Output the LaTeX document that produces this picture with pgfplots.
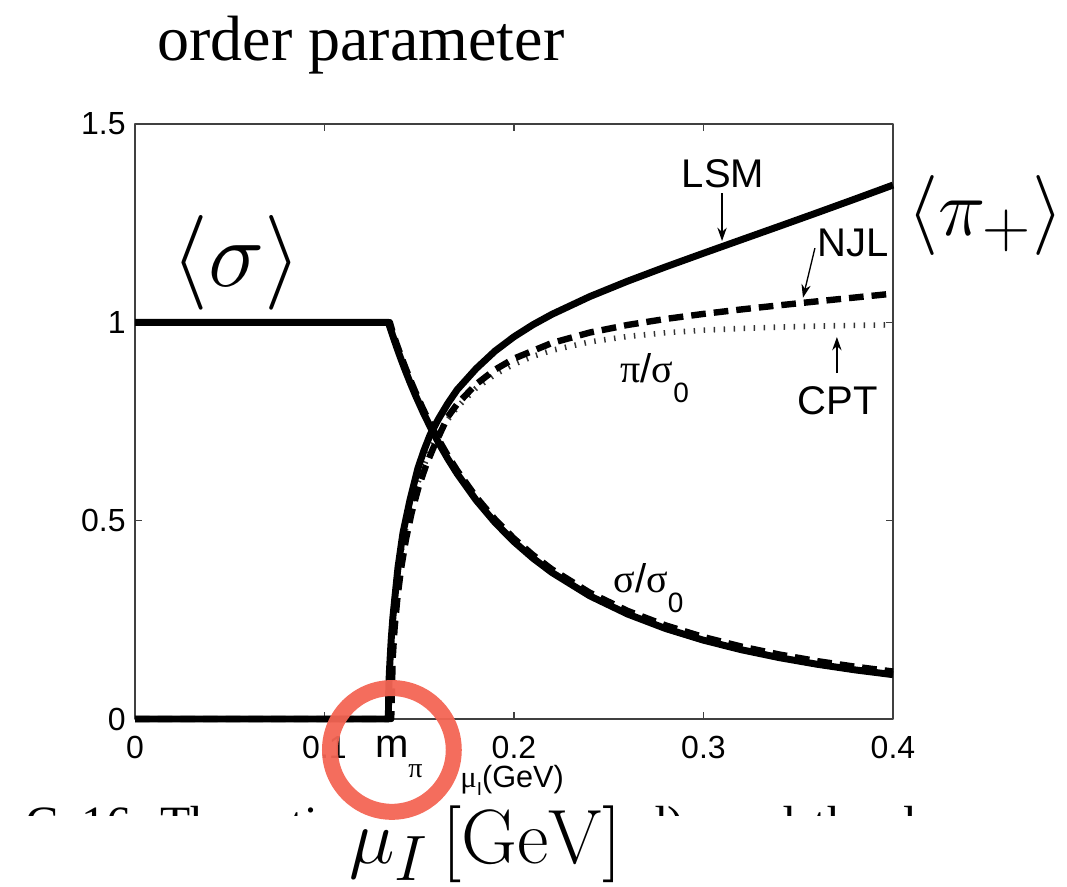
\documentclass[border=0pt]{standalone}
\usepackage{graphicx}
\usepackage{pgfplots}
\pgfplotsset{compat=1.18}
\usepackage[no-math]{fontspec}
\setmainfont{Liberation Sans}
\newfontfamily\serifx{Liberation Serif}
\usetikzlibrary{arrows.meta}
\definecolor{ringred}{RGB}{243,101,84}

\begin{document}
\begin{tikzpicture}
\path[use as bounding box] (-50.61pt,-62.61pt) rectangle (349.39pt,269.54pt);
\begin{axis}[
  at={(0pt,0pt)}, anchor=south west,
  scale only axis, width=284.16pt, height=223.06pt,
  xmin=0, xmax=0.4, ymin=0, ymax=1.5,
  xtick={0,0.1,0.2,0.3,0.4}, xticklabels={0,0.1,0.2,0.3,0.4},
  ytick={0,0.5,1,1.5}, yticklabels={0,0.5,1,1.5},
  /pgf/number format/assume math mode=true,
  tick align=inside, major tick length=2.6pt,
  axis line style={line width=0.5pt, black!75},
  tick style={line width=0.5pt, black!75},
  ticklabel style={font=\fontsize{12}{14}\selectfont},
  xticklabel style={yshift=-3pt},
  clip=false,
  line join=round,
]
% CPT (dotted)
\addplot[black!80, line width=2.1pt, dash pattern=on 0.55pt off 3.2pt] coordinates {
(0.1337,0) (0.1345,0.1534) (0.1355,0.2281) (0.137,0.3048) (0.139,0.3795) (0.1415,0.4504) (0.1445,0.5168) (0.148,0.5779) (0.152,0.6335) (0.156,0.6786) (0.16,0.7158) (0.165,0.7542) (0.17,0.7857) (0.18,0.834) (0.19,0.8688) (0.2,0.8946) (0.21,0.9142) (0.22,0.9293) (0.24,0.9506) (0.26,0.9644) (0.28,0.9737) (0.3,0.9801) (0.32,0.9846) (0.34,0.988) (0.36,0.9904) (0.38,0.9923) (0.4,0.9937)};
% LSM sigma (solid)
\addplot[black, line width=2.6pt] coordinates {
(0,1) (0.1337,1) (0.135,0.98085) (0.136,0.96648) (0.138,0.93867) (0.14,0.91204) (0.142,0.88653) (0.145,0.85023) (0.148,0.81611) (0.152,0.77372) (0.156,0.73455) (0.16,0.69828) (0.165,0.6566) (0.17,0.61855) (0.18,0.55173) (0.19,0.49518) (0.2,0.4469) (0.21,0.40535) (0.22,0.36934) (0.24,0.31035) (0.26,0.26444) (0.28,0.22801) (0.3,0.19862) (0.32,0.17457) (0.34,0.15464) (0.36,0.13793) (0.38,0.12379) (0.4,0.11173)};
% LSM pi (solid)
\addplot[black, line width=2.6pt] coordinates {
(0,0) (0.1337,0) (0.1339,0.075) (0.1342,0.115) (0.1346,0.15) (0.1352,0.2) (0.1361,0.257) (0.137,0.3) (0.1388,0.383) (0.1414,0.469) (0.1451,0.552) (0.1493,0.632) (0.1525,0.677) (0.1557,0.716) (0.16,0.755) (0.165,0.795) (0.17,0.83) (0.18,0.8831) (0.19,0.9276) (0.2,0.9636) (0.21,0.9939) (0.22,1.0201) (0.24,1.0649) (0.26,1.1038) (0.28,1.1397) (0.3,1.1742) (0.32,1.2082) (0.34,1.2421) (0.36,1.2763) (0.38,1.3109) (0.4,1.346)};
% NJL sigma (dashed)
\addplot[black, line width=2.4pt, dash pattern=on 5.5pt off 3pt] coordinates {
(0,1) (0.1345,1) (0.136,0.9745) (0.138,0.9467) (0.14,0.92) (0.142,0.8945) (0.145,0.8582) (0.148,0.8241) (0.152,0.7817) (0.156,0.7426) (0.16,0.7063) (0.165,0.6646) (0.17,0.6266) (0.18,0.5597) (0.19,0.5032) (0.2,0.4549) (0.21,0.4134) (0.22,0.3773) (0.24,0.3184) (0.26,0.2724) (0.28,0.236) (0.3,0.2066) (0.32,0.1826) (0.34,0.1626) (0.36,0.1459) (0.38,0.1318) (0.4,0.1197)};
% NJL pi (dashed)
\addplot[black, line width=2.4pt, dash pattern=on 5.5pt off 3pt] coordinates {
(0,0) (0.1352,0) (0.136,0.154) (0.137,0.2293) (0.1385,0.3064) (0.1405,0.3816) (0.143,0.4531) (0.146,0.5201) (0.1495,0.5819) (0.1535,0.6382) (0.1575,0.684) (0.161,0.72) (0.165,0.7613) (0.17,0.7937) (0.18,0.8439) (0.19,0.8807) (0.2,0.9086) (0.22,0.9479) (0.24,0.9742) (0.26,0.9934) (0.28,1.0085) (0.3,1.0212) (0.32,1.0325) (0.34,1.0429) (0.36,1.0529) (0.38,1.0626) (0.4,1.0723)};
% arrows
\draw[-{Stealth[length=5pt,width=3.5pt]}, line width=0.5pt] (axis cs:0.3098,1.326) -- (axis cs:0.3098,1.205);
\draw[-{Stealth[length=5pt,width=3.5pt]}, line width=0.5pt] (axis cs:0.3588,1.187) -- (axis cs:0.3525,1.062);
\draw[-{Stealth[length=5pt,width=3.5pt]}, line width=0.5pt] (axis cs:0.3704,0.872) -- (axis cs:0.3704,0.963);
\end{axis}

% curve labels
\node[anchor=base, inner sep=0pt, font=\fontsize{15}{17}\selectfont] at (220.4pt,199.1pt) {LSM};
\node[anchor=base, inner sep=0pt, font=\fontsize{15}{17}\selectfont] at (269.2pt,173.2pt) {NJL};
\node[anchor=base, inner sep=0pt, font=\fontsize{15}{17}\selectfont] at (263.4pt,114.0pt) {CPT};
\node[anchor=base west, inner sep=0pt, font=\fontsize{15}{17}\selectfont] at (181.8pt,126.3pt) {{\serifx π}/{\serifx σ}\raisebox{-7.5pt}{\fontsize{10.5}{12}\selectfont 0}};
\node[anchor=base west, inner sep=0pt, font=\fontsize{15}{17}\selectfont] at (179.2pt,47.6pt) {{\serifx σ}/{\serifx σ}\raisebox{-7.5pt}{\fontsize{10.5}{12}\selectfont 0}};

% big math labels
\node[inner sep=0pt] at (38.05pt,171.1pt) {\scalebox{1.427}{\fontsize{24.88}{30}\selectfont$\langle\sigma\rangle$}};
\node[inner sep=0pt] at (318.8pt,188.9pt) {\scalebox{1.206}{\fontsize{24.88}{30}\selectfont$\langle\pi_+\rangle$}};
\node[anchor=base, inner sep=0pt] at (131.5pt,-54.2pt) {\scalebox{1.16}{\fontsize{24.88}{30}\selectfont$\mu_I\,[\mathrm{GeV}]$}};
\node[anchor=base, inner sep=0pt, font=\serifx\fontsize{24}{28}\selectfont] at (84.7pt,246.7pt) {order parameter};

% m_pi and mu_I(GeV)
\node[anchor=base west, inner sep=0pt, font=\fontsize{15}{17}\selectfont] at (90.0pt,-14.6pt) {m};
\node[anchor=base west, inner sep=0pt, font=\serifx\fontsize{10.5}{12}\selectfont] at (102.3pt,-22.1pt) {π};
\node[anchor=base west, inner sep=0pt, font=\fontsize{11.5}{13}\selectfont] at (121.8pt,-25.5pt) {{\serifx μ}\raisebox{-3pt}{\fontsize{7}{8}\selectfont I}(GeV)};

% caption fragment (only tops visible)
\begin{scope}
\clip (-50.61pt,-36.3pt) rectangle (349.39pt,-32.2pt);
\node[anchor=base west, inner sep=0pt, font=\serifx\fontsize{18.5}{20}\selectfont] at (-41.2pt,-45.6pt) {G.};
\node[anchor=base west, inner sep=0pt, font=\serifx\fontsize{18.5}{20}\selectfont] at (-20.2pt,-45.6pt) {16.};
\node[anchor=base west, inner sep=0pt, font=\serifx\fontsize{18.5}{20}\selectfont] at (9.4pt,-45.6pt) {The};
\node[anchor=base west, inner sep=0pt, font=\serifx\fontsize{18.5}{20}\selectfont] at (43.9pt,-45.6pt) {ratio};
\node[anchor=base west, inner sep=0pt, font=\serifx\fontsize{18.5}{20}\selectfont] at (190.1pt,-45.6pt) {d)};
\node[anchor=base west, inner sep=0pt, font=\serifx\fontsize{18.5}{20}\selectfont] at (220.5pt,-45.6pt) {and};
\node[anchor=base west, inner sep=0pt, font=\serifx\fontsize{18.5}{20}\selectfont] at (254.3pt,-45.6pt) {the};
\node[anchor=base west, inner sep=0pt, font=\serifx\fontsize{18.5}{20}\selectfont] at (287.9pt,-45.6pt) {lo};
\end{scope}

% hand-drawn red ring
\draw[ringred, line width=6pt, opacity=0.95] (96.3pt,-11.6pt) circle (23.2pt);
\end{tikzpicture}
\end{document}
